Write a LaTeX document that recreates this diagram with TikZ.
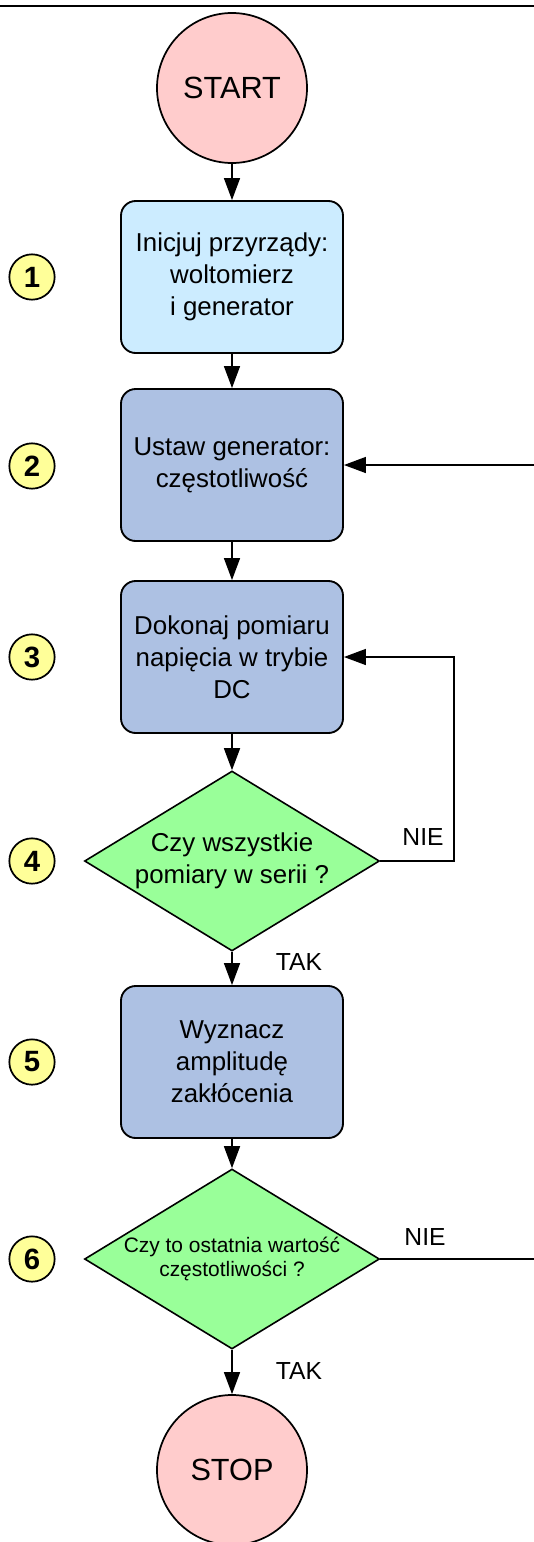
\documentclass[tikz,border=0pt]{standalone}
\usepackage{fontspec}
\setmainfont{Liberation Sans}
\usetikzlibrary{shapes.geometric,arrows.meta}
\definecolor{termpink}{RGB}{255,204,204}
\definecolor{initblue}{RGB}{204,236,255}
\definecolor{stepblue}{RGB}{173,193,227}
\definecolor{askgreen}{RGB}{153,255,153}
\definecolor{numyellow}{RGB}{255,255,153}
\tikzset{every picture/.style={line width=0.75pt}}

\begin{document}
\begin{tikzpicture}[x=0.75pt,y=0.75pt,yscale=-1,xscale=1,
	term/.style={circle,draw,line width=1.3pt,fill=termpink,inner sep=0pt,minimum size=112.5pt,font=\fontsize{23}{27}\selectfont},
	stepbox/.style={rectangle,rounded corners=11pt,draw,line width=1.4pt,fill=stepblue,inner sep=0pt,minimum width=166.5pt,minimum height=114pt,align=center,font=\fontsize{19.4}{24}\selectfont},
	ask/.style={diamond,draw,line width=1.2pt,fill=askgreen,inner sep=0pt,minimum width=221.25pt,minimum height=135pt},
	asktext/.style={align=center,inner sep=0pt},
	num/.style={circle,draw,line width=1.3pt,fill=numyellow,inner sep=0pt,minimum size=34pt,font=\fontsize{22}{24}\selectfont\bfseries},
	lbl/.style={inner sep=0pt,font=\fontsize{18.5}{22}\selectfont},
	flow/.style={line width=1.1pt,-{Triangle[length=16.5pt,width=12pt]}}]
	\useasboundingbox (0,0) rectangle (534,1542);
	
	%Straight Lines
	\draw [line width=2pt] (0,6) -- (534,6) ;
	
	%Shape: Circle
	\node [term] (start) at (232,88) {START};
	%Shape: Rounded Rect
	\node [stepbox,fill=initblue] (b1) at (232,277) {Inicjuj przyrządy:\\woltomierz\\i generator};
	%Shape: Rounded Rect
	\node [stepbox] (b2) at (232,465) {Ustaw generator:\\częstotliwość};
	%Shape: Rounded Rect
	\node [stepbox] (b3) at (232,657) {Dokonaj pomiaru\\napięcia w trybie\\DC};
	%Shape: Diamond
	\node [ask] (d4) at (232,861) {};
	\node [asktext,font=\fontsize{19.4}{24}\selectfont] (d4t) at (d4) {Czy wszystkie\\pomiary w serii ?};
	%Shape: Rounded Rect
	\node [stepbox] (b5) at (232,1062) {Wyznacz\\amplitudę\\zakłócenia};
	%Shape: Diamond
	\node [ask] (d6) at (232,1259) {};
	\node [asktext,font=\fontsize{15.7}{18}\selectfont] (d6t) at (d6) {Czy to ostatnia wartość\\częstotliwości ?};
	%Shape: Circle
	\node [term] (stop) at (232,1470) {STOP};
	
	% Step numbers
	\node [num] (n1) at (32,277) {1};
	\node [num] (n2) at (32,466) {2};
	\node [num] (n3) at (32,657) {3};
	\node [num] (n4) at (32,861) {4};
	\node [num] (n5) at (32,1062) {5};
	\node [num] (n6) at (32,1259) {6};
	
	%Straight Lines
	\draw [flow] (start) -- (b1) ;
	\draw [flow] (b1) -- (b2) ;
	\draw [flow] (b2) -- (b3) ;
	\draw [flow] (b3) -- (d4) ;
	\draw [flow] (d4) -- (b5) ;
	\draw [flow] (b5) -- (d6) ;
	\draw [flow] (d6) -- (stop) ;
	
	%Loops back
	\coordinate (r4) at (454,861);
	\draw [flow] (d4.east) -- (r4) |- (b3.east) ;
	\coordinate (r6) at (560,1259);
	\draw [flow] (d6.east) -- (r6) |- (b2.east) ;
	
	% Text Node
	\node [lbl] (nie4) at (423,837) {NIE};
	% Text Node
	\node [lbl] (tak4) at (299,962) {TAK};
	% Text Node
	\node [lbl] (nie6) at (425,1237) {NIE};
	% Text Node
	\node [lbl] (tak6) at (299,1371) {TAK};
	
\end{tikzpicture}
\end{document}
